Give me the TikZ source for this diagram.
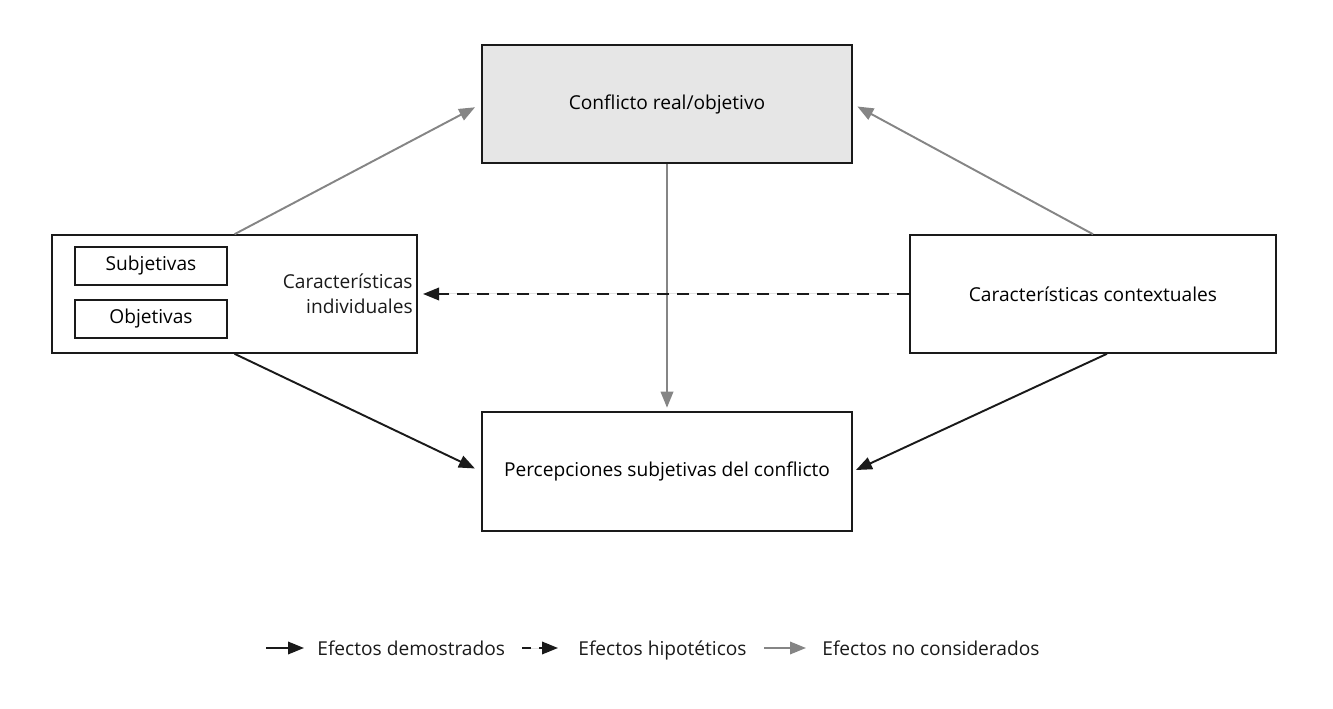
\documentclass[tikz,border=0pt]{standalone}
\usepackage{fontspec}
\setmainfont{Open Sans}
\usepackage{tikz}
\usetikzlibrary{arrows.meta}
\definecolor{ink}{HTML}{1A1A1A}
\definecolor{grayarr}{HTML}{858585}
\definecolor{boxfill}{HTML}{E6E6E6}
\tikzset{
  box/.style={draw=ink, line width=0.9pt, inner sep=0pt, font=\fontsize{10.9}{14}\selectfont},
  bigbox/.style={box, minimum width=7.4cm, minimum height=2.36cm},
  smallbox/.style={box, minimum width=3.04cm, minimum height=0.76cm},
  tip/.style={-{Triangle[length=0.32cm, width=0.25cm]}},
  shown/.style={tip, draw=ink, fill=ink, line width=1.1pt},
  hypo/.style={tip, draw=ink, fill=ink, line width=1.1pt, dash pattern=on 0.24cm off 0.16cm},
  notcons/.style={tip, draw=grayarr, fill=grayarr, line width=1.1pt},
  lab/.style={text=ink, font=\fontsize{10.9}{14}\selectfont, inner sep=0pt},
}
\begin{document}
\begin{tikzpicture}[x=0.02cm, y=-0.02cm]
  \useasboundingbox (0,0) rectangle (1333,709);
  % boxes
  \node[bigbox, fill=boxfill] (conf) at (667,104) {Conflicto real/objetivo};
  \node[bigbox, minimum width=7.3cm] (indiv) at (234.5,294) {};
  \node[bigbox, minimum width=7.32cm] (contx) at (1093,294) {Características contextuales};
  \node[bigbox, minimum height=2.38cm] (perc) at (667,471.5) {Percepciones subjetivas del conflicto};
  \node[smallbox] (subj) at (151,266) {Subjetivas};
  \node[smallbox] (obj) at (151,319) {Objetivas};
  \node[lab, anchor=east, align=right] (indivlab) at (413,294) {Características\\individuales};
  % effects
  \draw[notcons, shorten >=4pt] (indiv.north) -- (conf.west);
  \draw[notcons, shorten >=3pt] (contx.north) -- (conf.east);
  \draw[notcons, shorten >=2pt] (conf.south) -- (perc.north);
  \draw[hypo, shorten >=3pt] (contx.west) -- (indiv.east);
  \draw[shown, shorten >=4pt] (indiv.south) -- (perc.west);
  \draw[shown, shorten >=2pt] ([xshift=0.28cm]contx.south) -- (perc.east);
  % legend
  \coordinate (la1) at (266,648);
  \coordinate (la2) at (304,648);
  \coordinate (lb1) at (522,648);
  \coordinate (lb2) at (558,648);
  \coordinate (lc1) at (764,648);
  \coordinate (lc2) at (806,648);
  \draw[shown] (la1) -- (la2);
  \draw[hypo, dash pattern=on 0.18cm off 0.16cm] (lb1) -- (lb2);
  \draw[notcons] (lc1) -- (lc2);
  \node[lab, anchor=base west] (leg1) at (317,655) {Efectos demostrados};
  \node[lab, anchor=base west] (leg2) at (578,655) {Efectos hipotéticos};
  \node[lab, anchor=base west] (leg3) at (822,655) {Efectos no considerados};
\end{tikzpicture}
\end{document}
